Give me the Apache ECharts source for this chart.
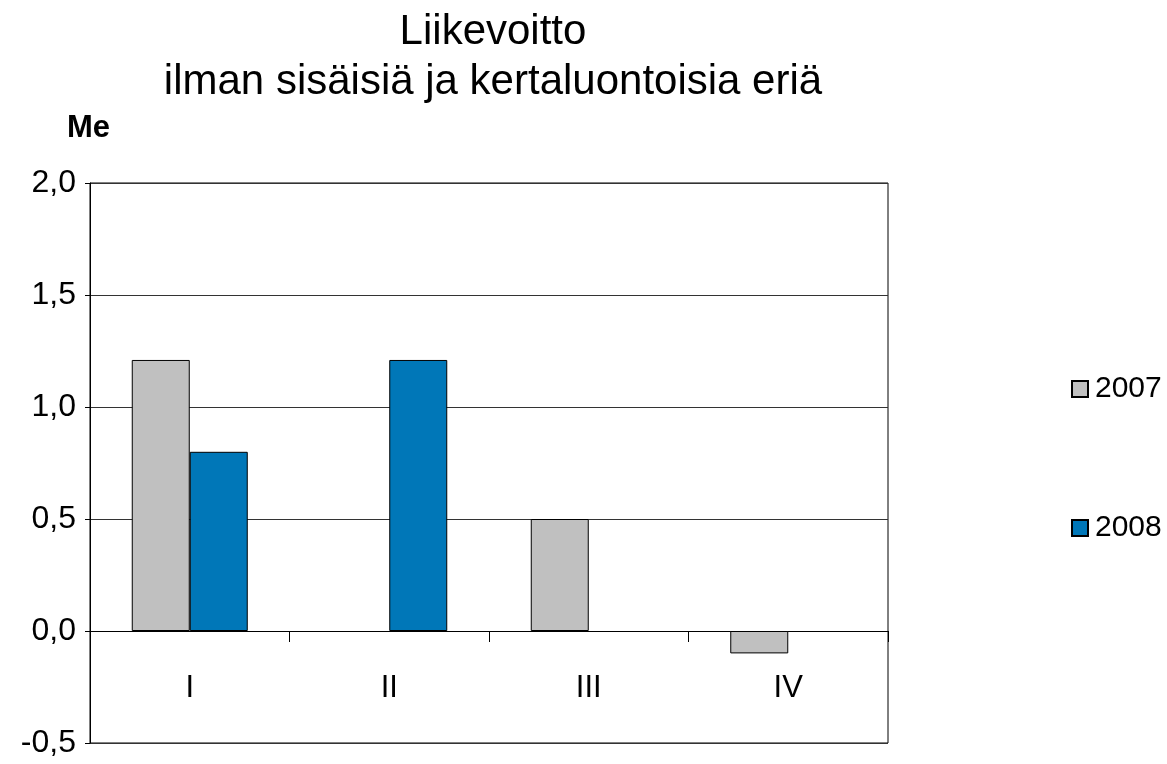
<!DOCTYPE html>
<html>
<head>
<meta charset="utf-8">
<script src="https://cdn.jsdelivr.net/npm/echarts@6/dist/echarts.min.js"></script>
<style>
  html, body { margin: 0; padding: 0; background: #fff; }
  #chart { width: 1167px; height: 764px; }
</style>
</head>
<body>
<div id="chart"></div>
<script>
// quarters and values (Me)
const quarters = ["I", "II", "III", "IV"];
const values2007 = [1.21, null, 0.5, -0.1];
const values2008 = [0.8, 1.21, null, null];
const yTicks = [-0.5, 0, 0.5, 1.0, 1.5, 2.0];

const font = "Liberation Sans, Arial, Helvetica, sans-serif";

const chart = echarts.init(document.getElementById("chart"));
chart.setOption({
  backgroundColor: "#ffffff",
  animation: false,
  title: {
    text: "Liikevoitto\nilman sisäisiä ja kertaluontoisia eriä",
    left: 488,
    top: 2,
    textAlign: "center",
    textStyle: { fontFamily: font, fontSize: 42, fontWeight: "normal", color: "#000", lineHeight: 50 }
  },
  graphic: [{
    type: "text",
    left: 67,
    top: 113,
    style: { text: "Me", fontFamily: font, fontSize: 31, fontWeight: "bold", fill: "#000" }
  }],
  legend: {
    orient: "vertical",
    left: 1066,
    top: 369,
    itemGap: 109,
    itemWidth: 16,
    itemHeight: 16,
    icon: "rect",
    textStyle: { fontFamily: font, fontSize: 30, color: "#000", padding: [0, 0, 0, 2] },
    data: ["2007", "2008"]
  },
  grid: {
    left: 90, right: 279, top: 183, bottom: 21,
    containLabel: false,
    outerBoundsMode: "none",
    show: true, borderColor: "#000", borderWidth: 1
  },
  xAxis: {
    type: "category",
    data: quarters,
    axisLine: { onZero: true, lineStyle: { color: "#000", width: 1 } },
    axisTick: { show: true, length: 11, lineStyle: { color: "#000" } },
    axisLabel: { fontFamily: font, fontSize: 31, color: "#000", margin: -70 }
  },
  yAxis: {
    type: "value",
    min: -0.5,
    max: 2.0,
    interval: 0.5,
    axisLine: { show: true, lineStyle: { color: "#000" } },
    axisTick: { show: true, length: 5, lineStyle: { color: "#000" } },
    splitLine: { show: true, lineStyle: { color: "#333", width: 1 } },
    axisLabel: {
      fontFamily: font, fontSize: 32, color: "#000", margin: 14,
      formatter: v => v.toFixed(1).replace(".", ",")
    }
  },
  series: [
    {
      name: "2007", type: "bar", data: values2007,
      barWidth: 58, barGap: "0%",
      itemStyle: { color: "#c0c0c0", borderColor: "#000", borderWidth: 1 }
    },
    {
      name: "2008", type: "bar", data: values2008,
      barWidth: 58, barGap: "0%",
      itemStyle: { color: "#0077b8", borderColor: "#000", borderWidth: 1 }
    }
  ]
});
</script>
</body>
</html>
